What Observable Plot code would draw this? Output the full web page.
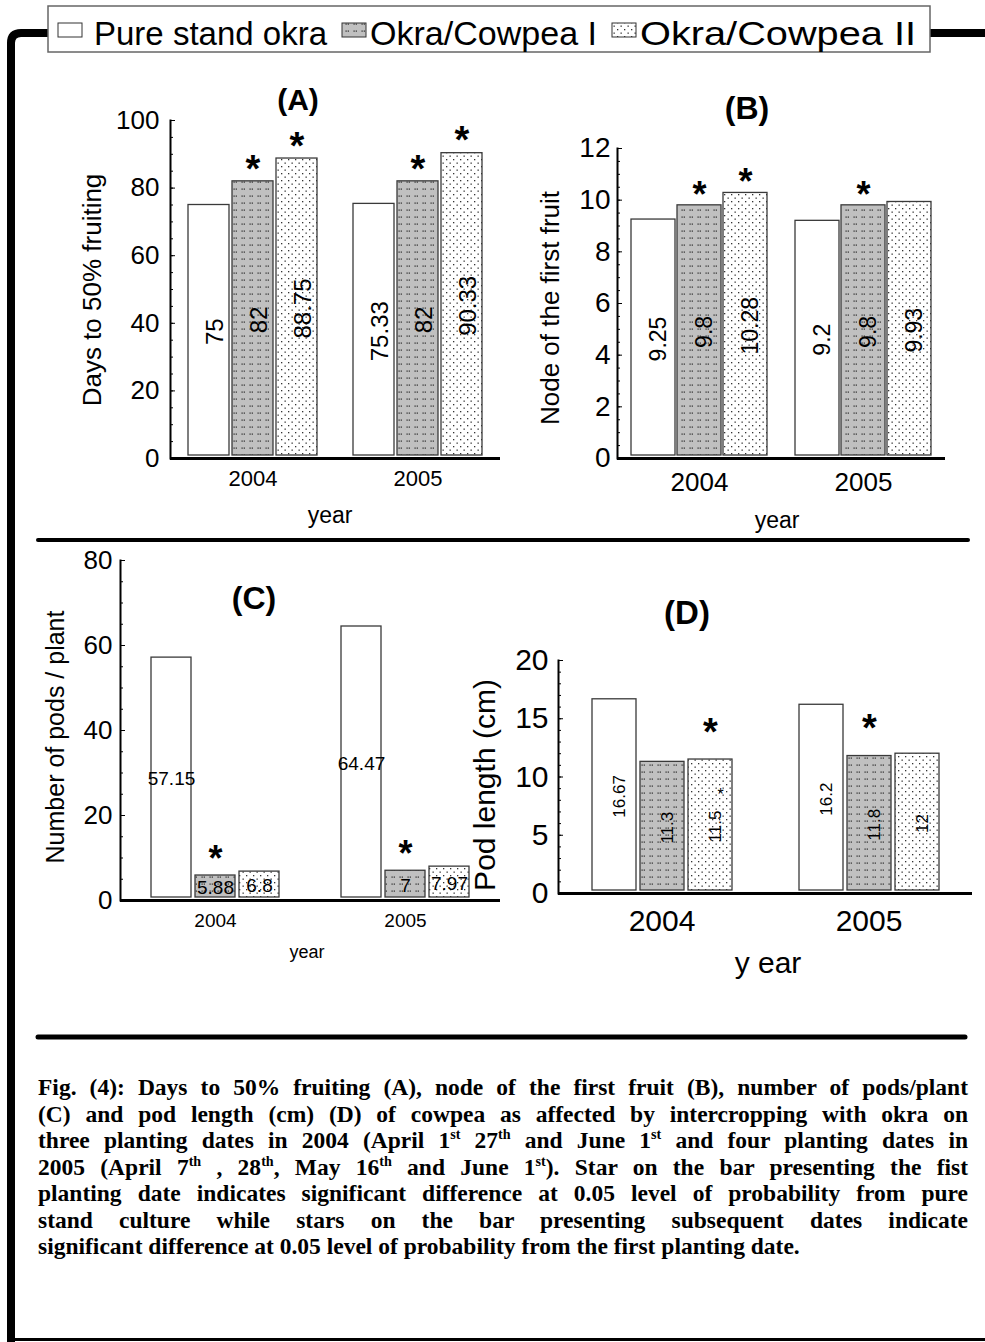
<!DOCTYPE html>
<html>
<head>
<meta charset="utf-8">
<script src="https://cdn.jsdelivr.net/npm/d3@7"></script>
<script src="https://cdn.jsdelivr.net/npm/@observablehq/plot@0.6"></script>
<style>
html, body { margin: 0; padding: 0; background: #fff; }
#page { position: relative; width: 985px; height: 1342px; overflow: hidden; background: #fff;
  font-family: "Liberation Sans", Arial, sans-serif; color: #000; }
.lbl { position: absolute; transform: translate(-50%, -50%); white-space: nowrap; line-height: 1; }
.rot { transform: translate(-50%, -50%) rotate(-90deg); }
.ttl { font-weight: bold; }
.panel { position: absolute; }
#caption { position: absolute; left: 38px; top: 1074px; width: 930px;
  font-family: "Liberation Serif", "Times New Roman", serif; font-weight: bold; font-size: 23.5px; line-height: 26.5px; }
#caption .cl { text-align: justify; text-align-last: justify; }
#caption sup { font-size: 0.6em; line-height: 0; vertical-align: 0.65em; }
</style>
</head>
<body>
<div id="page">
  <svg id="deco" width="985" height="1342" style="position:absolute;left:0;top:0">
    <defs>
      <pattern id="patOkraCowpeaI" patternUnits="userSpaceOnUse" width="8" height="7">
        <rect width="8" height="7" fill="#c0c0c0"></rect>
        <rect x="1.5" y="2.5" width="1.2" height="1.2" fill="#222"></rect>
        <rect x="3.7" y="2.5" width="1.2" height="1.2" fill="#222"></rect>
      </pattern>
      <pattern id="patOkraCowpeaII" patternUnits="userSpaceOnUse" width="7" height="7">
        <rect width="7" height="7" fill="#fff"></rect>
        <rect x="1" y="1" width="1.3" height="1.3" fill="#333"></rect>
        <rect x="4.5" y="4.5" width="1.3" height="1.3" fill="#333"></rect>
      </pattern>
    </defs>
    <path d="M11,1342 V43 Q11,33 21,33 H48" fill="none" stroke="#000" stroke-width="8"></path>
    <line x1="930" y1="33" x2="985" y2="33" stroke="#000" stroke-width="8"></line>
    <line x1="11" y1="1339.5" x2="985" y2="1339.5" stroke="#000" stroke-width="3"></line>
    <line x1="38" y1="540" x2="968" y2="540" stroke="#000" stroke-width="4" stroke-linecap="round"></line>
    <line x1="38" y1="1037" x2="965" y2="1037" stroke="#000" stroke-width="5" stroke-linecap="round"></line>
    <rect x="48" y="6" width="882" height="46" fill="#fff" stroke="#666" stroke-width="1.5"></rect>
    <g id="legend"></g>
  </svg>

  <div id="panelA" class="panel" style="left:0px;top:60px"></div>
  <div id="panelB" class="panel" style="left:520px;top:60px"></div>
  <div id="panelC" class="panel" style="left:0px;top:545px"></div>
  <div id="panelD" class="panel" style="left:480px;top:545px"></div>

  <div class="lbl ttl" style="left:298px;top:100px;font-size:30px">(A)</div>
  <div class="lbl ttl" style="left:747px;top:108px;font-size:32px">(B)</div>
  <div class="lbl ttl" style="left:254px;top:598px;font-size:32px">(C)</div>
  <div class="lbl ttl" style="left:687px;top:612px;font-size:33px">(D)</div>

  <div class="lbl rot" style="left:92px;top:290px;font-size:26px">Days to 50% fruiting</div>
  <div class="lbl rot" style="left:550px;top:308px;font-size:26px">Node of the first fruit</div>
  <div class="lbl rot" style="left:55px;top:737px;font-size:25px">Number of pods / plant</div>
  <div class="lbl rot" style="left:485px;top:785px;font-size:30px">Pod length (cm)</div>

  <div class="lbl" style="left:330px;top:515px;font-size:23px">year</div>
  <div class="lbl" style="left:777px;top:520px;font-size:23px">year</div>
  <div class="lbl" style="left:307px;top:952px;font-size:18px">year</div>
  <div class="lbl" style="left:768px;top:963px;font-size:30px">y ear</div>

  <div id="caption">
    <div class="cl">Fig. (4): Days to 50% fruiting (A), node of the first fruit (B), number of pods/plant</div>
    <div class="cl">(C) and pod length (cm) (D) of cowpea as affected by intercropping with okra on</div>
    <div class="cl">three planting dates in 2004 (April 1<sup>st</sup> 27<sup>th</sup> and June 1<sup>st</sup> and four planting dates in</div>
    <div class="cl">2005 (April 7<sup>th</sup> , 28<sup>th</sup>, May 16<sup>th</sup> and June 1<sup>st</sup>). Star on the bar presenting the fist</div>
    <div class="cl">planting date indicates significant difference at 0.05 level of probability from pure</div>
    <div class="cl">stand culture while stars on the bar presenting subsequent dates indicate</div>
    <div>significant difference at 0.05 level of probability from the first planting date.</div>
  </div>
</div>

<script>
// ---------------- data ----------------
const years = ["2004", "2005"];
const series = ["Pure stand okra", "Okra/Cowpea I", "Okra/Cowpea II"];
const seriesFills = ["white", "url(#patOkraCowpeaI)", "url(#patOkraCowpeaII)"];

const fruiting2004 = [75, 82, 88.75];
const fruiting2005 = [75.33, 82, 90.33];
const node2004 = [9.25, 9.8, 10.28];
const node2005 = [9.2, 9.8, 9.93];
const pods2004 = [57.15, 5.88, 6.8];
const pods2005 = [64.47, 7, 7.97];
const podLength2004 = [16.67, 11.3, 11.5];
const podLength2005 = [16.2, 11.8, 12];

const fruitingStars = ["2004|Okra/Cowpea I", "2004|Okra/Cowpea II", "2005|Okra/Cowpea I", "2005|Okra/Cowpea II"];
const nodeStars = ["2004|Okra/Cowpea I", "2004|Okra/Cowpea II", "2005|Okra/Cowpea I"];
const podsStars = ["2004|Okra/Cowpea I", "2005|Okra/Cowpea I"];
const podLengthStars = ["2004|Okra/Cowpea II", "2005|Okra/Cowpea I"];
const podLengthSmallStars = ["2004|Okra/Cowpea II"];

const fruitingTicks = [0, 20, 40, 60, 80, 100];
const nodeTicks = [0, 2, 4, 6, 8, 10, 12];
const podsTicks = [0, 20, 40, 60, 80];
const podLengthTicks = [0, 5, 10, 15, 20];

// ---------------- legend ----------------
(function () {
  const g = d3.select("#legend");
  const items = [
    {sx: 58, tx: 94, tl: 233},
    {sx: 342, tx: 370, tl: 227},
    {sx: 612, tx: 640, tl: 276}
  ];
  series.forEach((s, i) => {
    const it = items[i];
    g.append("rect").attr("x", it.sx).attr("y", 23).attr("width", 24).attr("height", 14)
      .attr("fill", seriesFills[i]).attr("stroke", "#333").attr("stroke-width", 1);
    g.append("text").attr("x", it.tx).attr("y", 45).attr("font-size", 33)
      .attr("font-family", '"Liberation Sans", Arial, sans-serif')
      .attr("textLength", it.tl).attr("lengthAdjust", "spacingAndGlyphs").text(s);
  });
})();

// ---------------- panels ----------------
function rowsOf(v2004, v2005) {
  const rows = [];
  [v2004, v2005].forEach((vals, i) => series.forEach((s, j) => rows.push({year: years[i], series: s, value: vals[j]})));
  return rows;
}

function makePanel(cfg) {
  const rows = rowsOf(cfg.v2004, cfg.v2005);
  const stars = rows.filter(r => cfg.stars.includes(r.year + "|" + r.series));
  const small = rows.filter(r => (cfg.smallStars || []).includes(r.year + "|" + r.series));
  const ymax = cfg.ticks[cfg.ticks.length - 1];
  const minor = d3.range(0, ymax + 1e-9, cfg.minorStep);
  const marks = [
    Plot.barY(rows, {fx: "year", x: "series", y: "value", fill: "series", stroke: "#3a3a3a", strokeWidth: 1.3, insetBottom: 3}),
    Plot.ruleY([0], {stroke: "#000", strokeWidth: 3}),
    Plot.frame({anchor: "left", facetAnchor: "left", stroke: "#000", strokeWidth: 2}),
    Plot.axisY({ticks: minor, tickSize: 3, dx: 3, fill: "none", label: null}),
    Plot.axisY({ticks: cfg.ticks, tickSize: 5, dx: 5, fill: "none", label: null}),
    Plot.axisY({ticks: cfg.ticks, tickSize: 0, tickPadding: cfg.tickPad, fontSize: cfg.tickFont, label: null}),
    Plot.axisFx({anchor: "bottom", tickSize: 0, tickPadding: cfg.fxPad, fontSize: cfg.fxFont, label: null}),
    Plot.text(rows, {fx: "year", x: "series", y: d => d.value / 2, text: d => String(d.value),
      rotate: cfg.rotate, fontSize: cfg.valFont, dx: cfg.valDx, fill: "#000"}),
    Plot.text(stars, {fx: "year", x: "series", y: "value", text: d => "*", dy: cfg.starDy,
      fontSize: cfg.starFont, fontWeight: "bold", fill: "#000"})
  ];
  if (small.length) {
    marks.push(Plot.text(small, {fx: "year", x: "series", y: d => d.value / 2, text: d => "*",
      dx: 10, dy: -32, fontSize: 16, fill: "#000"}));
  }
  const svg = Plot.plot({
    width: cfg.width, height: cfg.height,
    marginLeft: cfg.ml, marginRight: cfg.mr, marginTop: cfg.mt, marginBottom: cfg.mb,
    style: {background: "transparent", fontFamily: '"Liberation Sans", Arial, sans-serif', color: "#000", overflow: "visible"},
    fx: {domain: years, padding: 0, label: null},
    x: {domain: series, paddingInner: cfg.pi, paddingOuter: cfg.po, axis: null},
    y: {domain: [0, ymax]},
    color: {domain: series, range: seriesFills},
    marks
  });
  document.getElementById(cfg.id).appendChild(svg);
}

makePanel({id: "panelA", v2004: fruiting2004, v2005: fruiting2005, stars: fruitingStars,
  ticks: fruitingTicks, minorStep: 5, width: 520, height: 478, ml: 170, mr: 20, mt: 60, mb: 80,
  pi: 0.07, po: 0.41, tickFont: 26, tickPad: 11, fxFont: 22, fxPad: 12,
  valFont: 24, rotate: -90, valDx: 6, starFont: 38, starDy: -12});

makePanel({id: "panelB", v2004: node2004, v2005: node2005, stars: nodeStars,
  ticks: nodeTicks, minorStep: 0.5, width: 465, height: 478, ml: 97, mr: 40, mt: 88, mb: 80,
  pi: 0.054, po: 0.29, tickFont: 28, tickPad: 7, fxFont: 26, fxPad: 14,
  valFont: 23, rotate: -90, valDx: 5, starFont: 36, starDy: -10});

makePanel({id: "panelC", v2004: pods2004, v2005: pods2005, stars: podsStars,
  ticks: podsTicks, minorStep: 5, width: 520, height: 425, ml: 120, mr: 20, mt: 15, mb: 70,
  pi: 0.08, po: 0.675, tickFont: 26, tickPad: 8, fxFont: 19, fxPad: 13,
  valFont: 19, rotate: 0, valDx: 0, starFont: 36, starDy: -16});

makePanel({id: "panelD", v2004: podLength2004, v2005: podLength2005, stars: podLengthStars,
  smallStars: podLengthSmallStars,
  ticks: podLengthTicks, minorStep: 1, width: 505, height: 428, ml: 78, mr: 13, mt: 115, mb: 80,
  pi: 0.09, po: 0.68, tickFont: 30, tickPad: 10, fxFont: 30, fxPad: 16,
  valFont: 17, rotate: -90, valDx: 5, starFont: 38, starDy: -27});
</script>
</body>
</html>
